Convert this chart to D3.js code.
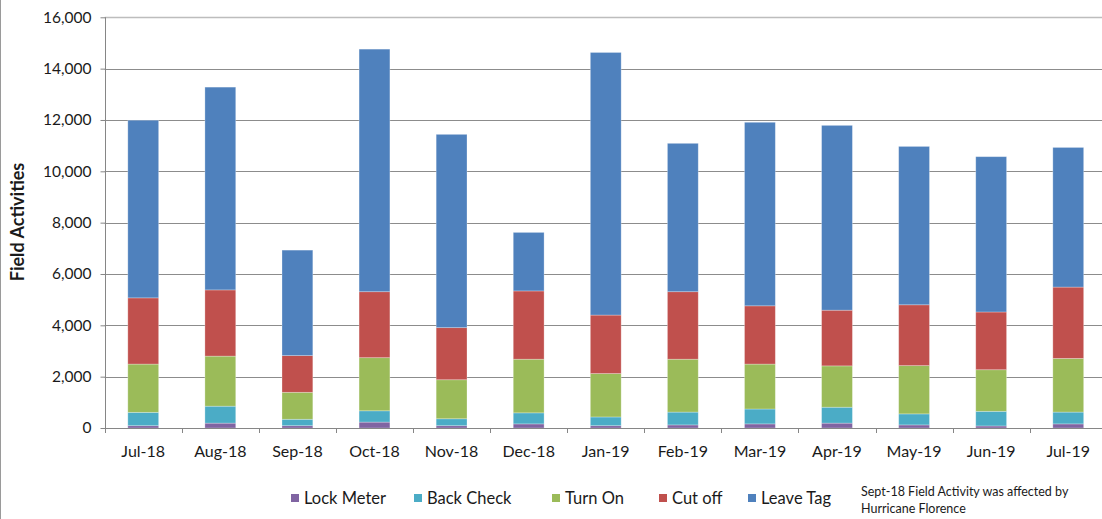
<!DOCTYPE html>
<html>
<head>
<meta charset="utf-8">
<script src="https://cdn.jsdelivr.net/npm/d3@7"></script>
<style>
  html, body { margin: 0; padding: 0; background: #fff; }
  svg { display: block; }
  text { font-family: Lato, "Open Sans", sans-serif; fill: #1a1a1a; }
</style>
</head>
<body>
<svg id="chart" width="1102" height="519"></svg>
<script>
// Monthly field activity counts, stacked by activity type
const months = ["Jul-18","Aug-18","Sep-18","Oct-18","Nov-18","Dec-18","Jan-19","Feb-19","Mar-19","Apr-19","May-19","Jun-19","Jul-19"];
const lockMeter = [90, 190, 90, 230, 90, 160, 90, 120, 160, 190, 120, 80, 160];
const backCheck = [520, 660, 250, 440, 270, 430, 340, 500, 580, 620, 430, 570, 460];
const turnOn    = [1880, 1950, 1050, 2070, 1520, 2090, 1690, 2060, 1750, 1610, 1880, 1620, 2090];
const cutOff    = [2580, 2580, 1430, 2570, 2030, 2660, 2280, 2630, 2270, 2170, 2370, 2250, 2780];
const leaveTag  = [6920, 7900, 4110, 9450, 7530, 2280, 10230, 5780, 7150, 7200, 6170, 6050, 5440];
const yTicks = [0, 2000, 4000, 6000, 8000, 10000, 12000, 14000, 16000];
const seriesNames = ["Lock Meter", "Back Check", "Turn On", "Cut off", "Leave Tag"];
const seriesColors = ["#8064A2", "#4BACC6", "#9BBB59", "#C0504D", "#4F81BD"];
const note = ["Sept-18 Field Activity was affected by", "Hurricane Florence"];

const rows = months.map((m, i) => ({
  month: m,
  "Lock Meter": lockMeter[i],
  "Back Check": backCheck[i],
  "Turn On": turnOn[i],
  "Cut off": cutOff[i],
  "Leave Tag": leaveTag[i]
}));

const svg = d3.select("#chart");
const W = 1102, H = 519;

// Plot area
const plotLeft = 104.7, plotRight = 1106.8, plotTop = 17.3, plotBottom = 428;

const x = d3.scaleBand().domain(months).range([plotLeft, plotRight]).paddingInner(0.6).paddingOuter(0.3);
const y = d3.scaleLinear().domain([0, 16000]).range([plotBottom, plotTop]);
const color = d3.scaleOrdinal().domain(seriesNames).range(seriesColors);

// Outer frame line on the left edge
svg.append("line").attr("x1", 0.5).attr("x2", 0.5).attr("y1", 0).attr("y2", H)
  .attr("stroke", "#9a9a9a").attr("stroke-width", 1);

// Horizontal gridlines (the top one drawn lighter)
svg.append("g").selectAll("line").data(yTicks.filter(d => d > 0)).join("line")
  .attr("x1", plotLeft).attr("x2", W)
  .attr("y1", d => Math.round(y(d)) + 0.5).attr("y2", d => Math.round(y(d)) + 0.5)
  .attr("stroke", d => d === 16000 ? "#bdbdbd" : "#8c8c8c")
  .attr("stroke-width", d => d === 16000 ? 1.5 : 1);

// Stacked bars
const stacked = d3.stack().keys(seriesNames)(rows);
svg.append("g").selectAll("g").data(stacked).join("g")
  .attr("fill", d => color(d.key))
  .selectAll("rect").data(d => d).join("rect")
  .attr("x", d => x(d.data.month))
  .attr("width", x.bandwidth())
  .attr("y", d => y(d[1]))
  .attr("height", d => y(d[0]) - y(d[1]))
  .attr("stroke", "rgba(255,255,255,0.35)")
  .attr("stroke-width", 0.8);

// Y axis
const yAxis = d3.axisLeft(y).tickValues(yTicks).tickFormat(d3.format(",")).tickSize(5).tickPadding(9);
const gy = svg.append("g").attr("transform", `translate(${Math.round(plotLeft) + 0.5},0)`).call(yAxis);
gy.select(".domain").attr("stroke", "#868686").attr("d", `M0,${y(16000)}V${plotBottom}`);
gy.selectAll(".tick line").attr("stroke", "#868686");
gy.selectAll(".tick text").attr("font-size", 15.5).attr("font-family", "Lato, sans-serif").attr("fill", "#1a1a1a");

// X axis baseline and category separators
const step = x.step();
const x0 = x.range()[0];
svg.append("line").attr("x1", plotLeft).attr("x2", W)
  .attr("y1", Math.round(plotBottom) + 0.5).attr("y2", Math.round(plotBottom) + 0.5)
  .attr("stroke", "#868686");
svg.append("g").selectAll("line").data(d3.range(months.length + 1)).join("line")
  .attr("x1", i => Math.round(x0 + i * step) + 0.5).attr("x2", i => Math.round(x0 + i * step) + 0.5)
  .attr("y1", plotBottom).attr("y2", plotBottom + 5)
  .attr("stroke", "#868686");

// Category labels
svg.append("g").selectAll("text").data(months).join("text")
  .attr("x", d => x(d) + x.bandwidth() / 2)
  .attr("y", 457)
  .attr("text-anchor", "middle")
  .attr("font-size", 16)
  .text(d => d);

// Y axis title
svg.append("text")
  .attr("transform", "translate(24,222) rotate(-90)")
  .attr("text-anchor", "middle")
  .attr("font-size", 18)
  .attr("font-weight", "bold")
  .text("Field Activities");

// Legend
const legendX = [291, 414, 552, 659, 748];
const lg = svg.append("g").selectAll("g").data(seriesNames).join("g")
  .attr("transform", (d, i) => `translate(${legendX[i]},498)`);
lg.append("rect").attr("x", 0).attr("y", -4).attr("width", 8).attr("height", 8)
  .attr("fill", d => color(d));
lg.append("text").attr("x", 13).attr("y", 6).attr("font-size", 16.5).text(d => d);

// Annotation
svg.append("g").selectAll("text").data(note).join("text")
  .attr("x", 861).attr("y", (d, i) => 496 + i * 17)
  .attr("font-size", 12.5)
  .text(d => d);
</script>
</body>
</html>
